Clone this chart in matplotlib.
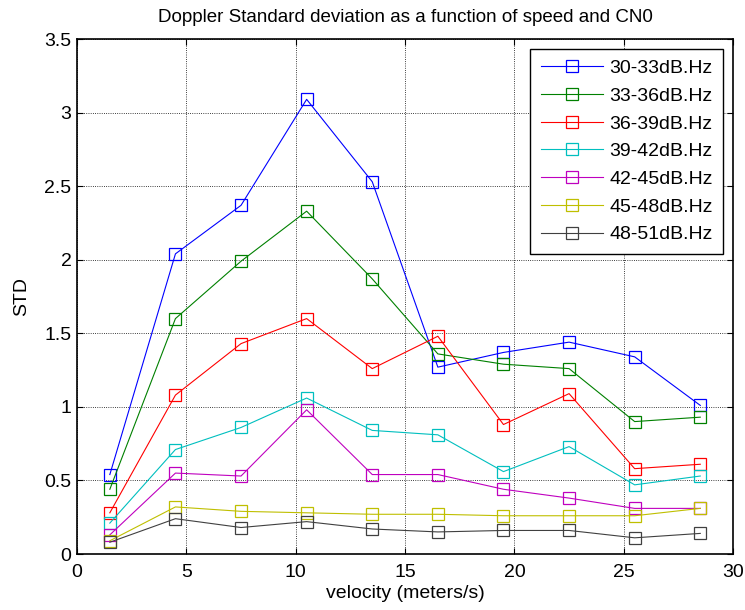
import matplotlib
matplotlib.use("Agg")
import matplotlib.pyplot as plt

plt.rcParams['font.family'] = ['Liberation Sans', 'DejaVu Sans']

velocity = [1.5, 4.5, 7.5, 10.5, 13.5, 16.5, 19.5, 22.5, 25.5, 28.5]

std_30_33 = [0.54, 2.04, 2.37, 3.09, 2.53, 1.27, 1.37, 1.44, 1.34, 1.01]
std_33_36 = [0.44, 1.60, 1.99, 2.33, 1.87, 1.36, 1.29, 1.26, 0.90, 0.93]
std_36_39 = [0.28, 1.08, 1.43, 1.60, 1.26, 1.48, 0.88, 1.09, 0.58, 0.61]
std_39_42 = [0.21, 0.71, 0.86, 1.06, 0.84, 0.81, 0.56, 0.73, 0.47, 0.53]
std_42_45 = [0.13, 0.55, 0.53, 0.98, 0.54, 0.54, 0.44, 0.38, 0.31, 0.31]
std_45_48 = [0.09, 0.32, 0.29, 0.28, 0.27, 0.27, 0.26, 0.26, 0.26, 0.31]
std_48_51 = [0.08, 0.24, 0.18, 0.22, 0.17, 0.15, 0.16, 0.16, 0.11, 0.14]

labels = ['30-33dB.Hz', '33-36dB.Hz', '36-39dB.Hz', '39-42dB.Hz',
          '42-45dB.Hz', '45-48dB.Hz', '48-51dB.Hz']
series = [std_30_33, std_33_36, std_36_39, std_39_42, std_42_45, std_45_48, std_48_51]
colors = [(0, 0, 1), (0, 0.5, 0), (1, 0, 0), (0, 0.75, 0.75),
          (0.75, 0, 0.75), (0.75, 0.75, 0), (0.25, 0.25, 0.25)]

fig = plt.figure(figsize=(7.45, 6.1), dpi=100)
ax = fig.add_axes([0.1034, 0.0918, 0.8806, 0.8442])

for vals, lab, col in zip(series, labels, colors):
    ax.plot(velocity, vals, color=col, linewidth=0.8, marker='s', markersize=9,
            markerfacecolor='none', markeredgecolor=col, markeredgewidth=0.9, label=lab)

ax.set_xlim(0, 30)
ax.set_ylim(0, 3.5)
ax.set_xticks(range(0, 31, 5))
ax.set_yticks([0, 0.5, 1, 1.5, 2, 2.5, 3, 3.5])
ax.set_yticklabels(['0', '0.5', '1', '1.5', '2', '2.5', '3', '3.5'])
ax.tick_params(direction='in', length=4, labelsize=14, top=True, right=True)
ax.tick_params(axis='x', pad=7)
ax.tick_params(axis='y', pad=4)
ax.grid(True, linestyle=':', color='k', linewidth=0.6)
for s in ax.spines.values():
    s.set_linewidth(1.2)

ax.set_xlabel('velocity (meters/s)', fontsize=14, labelpad=3)
ax.set_ylabel('STD', fontsize=14, labelpad=10)
ax.set_title('Doppler Standard deviation as a function of speed and CN0', fontsize=13.5, pad=12)

leg = ax.legend(loc='upper right', fontsize=14, fancybox=False, framealpha=1,
                edgecolor='k', handlelength=3.2, handletextpad=0.3, borderpad=0.55,
                borderaxespad=0.5, labelspacing=0.52)
leg.get_frame().set_linewidth(1.0)

fig.savefig('out.png', dpi=100)
